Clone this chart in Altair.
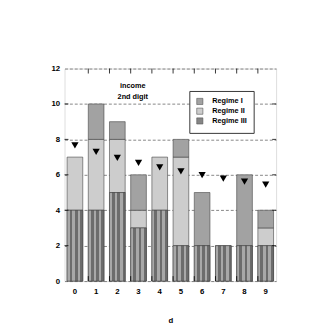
import altair as alt
import pandas as pd

digits = [0, 1, 2, 3, 4, 5, 6, 7, 8, 9]
regime_iii = [4, 4, 5, 3, 4, 2, 2, 2, 2, 2]
regime_ii = [3, 4, 3, 1, 3, 5, 0, 0, 0, 1]
regime_i = [0, 2, 1, 2, 0, 1, 3, 0, 4, 1]
expected = [7.66, 7.29, 6.96, 6.68, 6.42, 6.19, 5.98, 5.79, 5.61, 5.44]
regimes = ["Regime I", "Regime II", "Regime III"]
regime_colors = ["#a2a2a2", "#cdcdcd", "#858585"]
y_ticks = [0, 2, 4, 6, 8, 10, 12]
grid_vals = [2, 4, 6, 8, 10]
annotation = ["income", "2nd digit"]
annotation_y = [11.0, 10.4]

FONT = "Liberation Sans"
W, H = 217, 218

rows = []
for i, d in enumerate(digits):
    lo = 0
    for name, vals in (("Regime III", regime_iii), ("Regime II", regime_ii), ("Regime I", regime_i)):
        v = vals[i]
        if v > 0:
            rows.append({"d": d, "regime": name, "lo": lo, "hi": lo + v})
        lo += v
bars_df = pd.DataFrame(rows)
r3_df = bars_df[bars_df.regime == "Regime III"]
exp_df = pd.DataFrame({"d": digits, "e": expected})

xscale = alt.Scale(domain=digits, paddingInner=0.26, paddingOuter=0.12)
yscale = alt.Scale(domain=[0, 12], nice=False)

x_axis = alt.Axis(labelAngle=0, ticks=False, domain=False, labelPadding=7,
                  labelFontSize=8, labelFontWeight="bold", labelFont=FONT,
                  titleFontSize=8, titleFontWeight="bold", titleFont=FONT,
                  titlePadding=21)
y_axis = alt.Axis(values=y_ticks, ticks=False, domain=False, labelPadding=5,
                  labelFontSize=8, labelFontWeight="bold", labelFont=FONT,
                  labelOverlap=False,
                  grid=True, gridDash=[3, 2], gridColor="#666", gridWidth=0.8)


def X(field, **kw):
    return alt.X(field, scale=xscale, axis=x_axis, title="d", **kw)


def Y(field):
    return alt.Y(field, scale=yscale, axis=y_axis, title=None)


def YD(v):
    return alt.YDatum(v, scale=yscale, axis=y_axis, title=None)


bars = alt.Chart(bars_df).mark_bar(stroke="#444", strokeWidth=0.6).encode(
    x=X("d:O"),
    y=Y("lo:Q"),
    y2="hi:Q",
    color=alt.Color("regime:N", scale=alt.Scale(domain=regimes, range=regime_colors),
                    legend=alt.Legend(title=None, orient="none", legendX=128, legendY=23,
                                      strokeColor="#333", padding=7, symbolType="square",
                                      symbolSize=40, symbolStrokeColor="#555", symbolStrokeWidth=0.6,
                                      labelFontSize=7.5, labelFontWeight="bold", labelFont=FONT,
                                      labelColor="black",
                                      rowPadding=0, labelOffset=9, fillColor="white")),
)

n = 3
stops = []
for k in range(n):
    stops += [alt.GradientStop(offset=k / n, color="#a8a8a8"),
              alt.GradientStop(offset=(k + 0.5) / n, color="#a8a8a8"),
              alt.GradientStop(offset=(k + 0.5) / n, color="#6c6c6c"),
              alt.GradientStop(offset=(k + 1) / n, color="#6c6c6c")]
stripe = alt.LinearGradient(gradient="linear", stops=stops, x1=0, x2=1, y1=0, y2=0)

r3 = alt.Chart(r3_df).mark_bar(color=stripe, stroke="#444", strokeWidth=0.6).encode(
    x=X("d:O"), y=Y("lo:Q"), y2="hi:Q")

tri = alt.Chart(exp_df).mark_point(shape="triangle-down", filled=True, color="black",
                                   size=55, opacity=1).encode(
    x=X("d:O"), y=Y("e:Q"))

txt_layers = [
    alt.Chart(pd.DataFrame({"t": [t]})).mark_text(
        font=FONT, fontSize=7.5, fontWeight="bold", color="black").encode(
        x=alt.value(70), y=YD(yv), text="t:N")
    for t, yv in zip(annotation, annotation_y)
]

bnd_df = pd.DataFrame({"d": digits[1:]})
top_ticks = alt.Chart(bnd_df).mark_rule(color="black", strokeWidth=0.8).encode(
    x=X("d:O", bandPosition=0), y=YD(12), y2=alt.datum(11.72))
bot_ticks = alt.Chart(bnd_df).mark_rule(color="black", strokeWidth=0.8).encode(
    x=X("d:O", bandPosition=0), y=YD(0), y2=alt.datum(0.28))

gv_df = pd.DataFrame({"v": grid_vals})
left_ticks = alt.Chart(gv_df).mark_rule(color="black", strokeWidth=0.8).encode(
    y=Y("v:Q"), x=alt.value(0), x2=alt.value(4))
right_ticks = alt.Chart(gv_df).mark_rule(color="black", strokeWidth=0.8).encode(
    y=Y("v:Q"), x=alt.value(W - 4), x2=alt.value(W))

chart = alt.layer(bars, r3, tri, top_ticks, bot_ticks, left_ticks, right_ticks, *txt_layers).properties(
    width=W, height=H,
    autosize=alt.AutoSizeParams(type="none"),
    padding={"left": 58, "top": 58, "right": 44, "bottom": 43},
).configure_view(stroke="black", strokeWidth=1).configure(background="white")

chart.save("out.html", embed_options={"renderer": "svg", "actions": False})
